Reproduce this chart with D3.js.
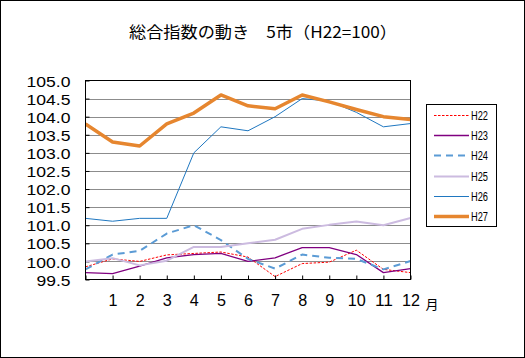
<!DOCTYPE html>
<html><head><meta charset="utf-8">
<script src="https://cdn.jsdelivr.net/npm/d3@7"></script>
<style>body{margin:0;background:#fff}svg{display:block}</style>
</head><body><svg id="c" width="525" height="358"></svg>
<script>
const months = ["", "1","2","3","4","5","6","7","8","9","10","11","12"];
const yTicks = [99.5,100.0,100.5,101.0,101.5,102.0,102.5,103.0,103.5,104.0,104.5,105.0];
const seriesNames = ["H22","H23","H24","H25","H26","H27"];
const H22 = [99.85,100.07,100.0,100.18,100.22,100.26,100.12,99.58,99.94,99.98,100.31,99.78,99.69];
const H23 = [99.69,99.66,99.87,100.1,100.19,100.22,100.0,100.1,100.38,100.38,100.19,99.69,99.8];
const H24 = [99.78,100.19,100.29,100.77,101.0,100.59,100.07,99.8,100.19,100.1,100.07,99.78,100.01];
const H25 = [100.0,100.09,99.89,100.02,100.4,100.4,100.5,100.6,100.9,101.01,101.1,101.0,101.2];
const H26 = [101.19,101.11,101.19,101.19,103.0,103.72,103.61,104.0,104.5,104.43,104.12,103.72,103.81];
const H27 = [103.8,103.3,103.19,103.8,104.1,104.6,104.3,104.22,104.6,104.41,104.2,104.0,103.92];
const seriesData = [H22,H23,H24,H25,H26,H27];
const styles = [
  {color:"#ff0000", width:1, dash:"2.5,1.5"},
  {color:"#800080", width:1.3, dash:null},
  {color:"#5b9bd5", width:2, dash:"7,5"},
  {color:"#ccbbe0", width:2, dash:null},
  {color:"#1f77c0", width:1, dash:null},
  {color:"#e6862f", width:3.5, dash:null}
];
const svg = d3.select("#c");
const font = "'MS Gothic','Noto Sans CJK JP',sans-serif";
const numFont = "'Liberation Sans',Arial,sans-serif";
svg.append("rect").attr("x",0.5).attr("y",0.5).attr("width",524).attr("height",357)
  .attr("fill","#fff").attr("stroke","#000");
svg.append("text").attr("x",263).attr("y",38).attr("text-anchor","middle")
  .attr("font-family",font).attr("font-size",16).attr("fill","#000")
  .attr("textLength",268).attr("lengthAdjust","spacingAndGlyphs")
  .text("総合指数の動き　5市（H22=100）");

const L=85.5, R=410.5, T=80.5, B=279.5;
const x = d3.scalePoint().domain(d3.range(months.length)).range([L,R]);
const y = d3.scaleLinear().domain([99.5,105]).range([B,T]);

// grid
svg.append("g").selectAll("line").data(yTicks.filter(v=>v>99.5 && v<105)).join("line")
  .attr("x1",L).attr("x2",R).attr("y1",d=>Math.round(y(d))+0.5).attr("y2",d=>Math.round(y(d))+0.5)
  .attr("stroke","#8c8c8c").attr("stroke-width",1);

// axes
const yAxis = d3.axisLeft(y).tickValues(yTicks).tickSize(-4).tickFormat(d3.format(".1f")).tickPadding(15);
const gy = svg.append("g").attr("transform",`translate(${L},0)`).call(yAxis);
gy.select(".domain").remove();
gy.selectAll(".tick line").attr("stroke","#000");
gy.selectAll("text").attr("font-family",numFont).attr("font-size",15.5).attr("fill","#000")
  .attr("textLength",d=>d>=100?44:34).attr("lengthAdjust","spacingAndGlyphs").attr("dy","0.36em");

const xAxis = d3.axisBottom(x).tickSize(-4).tickFormat(i=>months[i]).tickPadding(14);
const gx = svg.append("g").attr("transform",`translate(0,${B})`).call(xAxis);
gx.select(".domain").remove();
gx.selectAll(".tick line").attr("stroke","#000");
gx.selectAll("text").attr("font-family",numFont).attr("font-size",17).attr("fill","#000")
  .attr("textLength",d=>months[d].length>1?18:9).attr("lengthAdjust","spacingAndGlyphs");

svg.append("text").attr("x",432).attr("y",309).attr("text-anchor","middle")
  .attr("font-family",font).attr("font-size",13).attr("fill","#000").text("月");

// lines
const line = d3.line().x((d,i)=>x(i)).y(d=>y(d));
svg.append("clipPath").attr("id","pc").append("rect")
  .attr("x",L).attr("y",T-3).attr("width",R-L).attr("height",B-T+3);
svg.append("g").attr("clip-path","url(#pc)").selectAll("path").data(seriesData).join("path")
  .attr("d",d=>line(d)).attr("fill","none")
  .attr("stroke",(d,i)=>styles[i].color).attr("stroke-width",(d,i)=>styles[i].width)
  .attr("stroke-dasharray",(d,i)=>styles[i].dash).attr("stroke-linejoin","round");

// plot border
svg.append("rect").attr("x",L).attr("y",T).attr("width",R-L).attr("height",B-T)
  .attr("fill","none").attr("stroke","#000");

// legend
const lg = svg.append("g");
lg.append("rect").attr("x",426.5).attr("y",104.5).attr("width",70).attr("height",122)
  .attr("fill","#fff").attr("stroke","#000");
const ent = lg.selectAll("g.e").data(seriesNames).join("g").attr("class","e")
  .attr("transform",(d,i)=>`translate(0,${Math.round(115+i*20.2)+0.5})`);
ent.append("line").attr("x1",434).attr("x2",469).attr("y1",0).attr("y2",0)
  .attr("stroke",(d,i)=>styles[i].color).attr("stroke-width",(d,i)=>styles[i].width)
  .attr("stroke-dasharray",(d,i)=>styles[i].dash);
ent.append("text").attr("x",471).attr("y",0).attr("dy","0.36em")
  .attr("font-family",numFont).attr("font-size",12).attr("fill","#000")
  .attr("textLength",17).attr("lengthAdjust","spacingAndGlyphs").text(d=>d);
</script></body></html>
